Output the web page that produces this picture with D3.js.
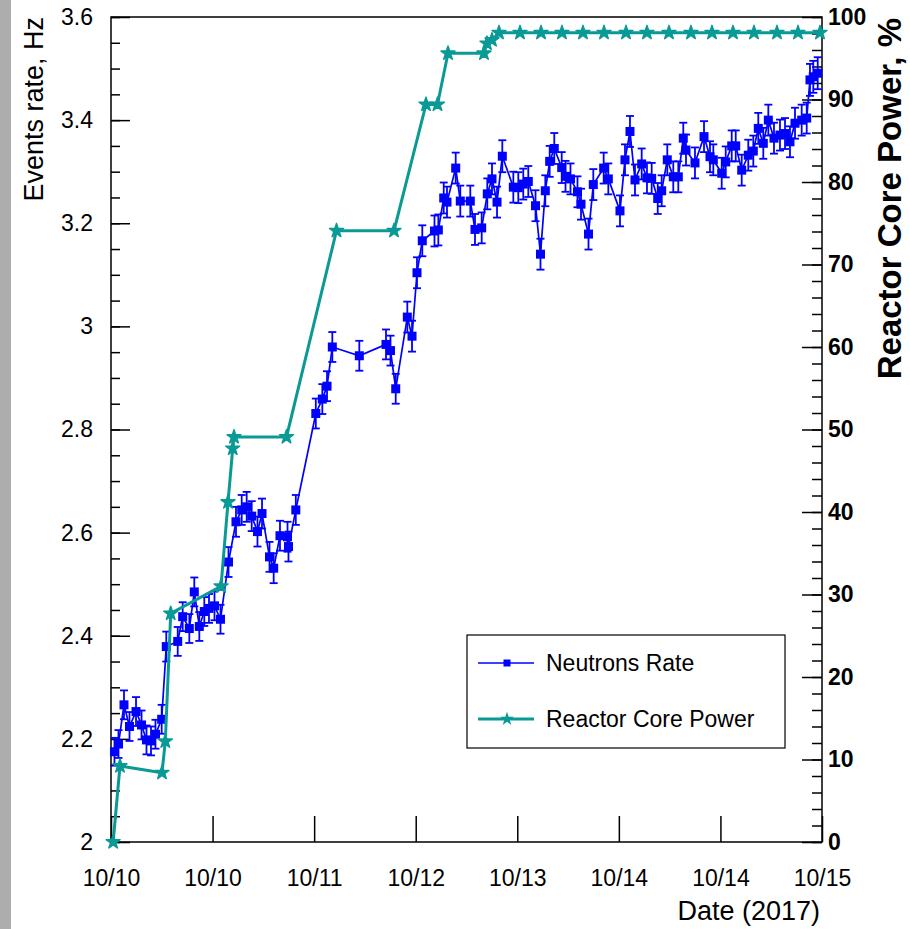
<!DOCTYPE html>
<html>
<head>
<meta charset="utf-8">
<script src="https://cdn.jsdelivr.net/npm/d3@7"></script>
<style>
body { margin: 0; background: #fff; }
svg { display: block; font-family: "Liberation Sans", Arial, sans-serif; }
</style>
</head>
<body>
<svg id="chart" width="910" height="929"></svg>
<script>
// Start of the time axis (first tick), ticks every 19 hours
const axisStart = Date.UTC(2017, 9, 10, 3);
const tickStepHours = 19;
const tickCount = 8;

// Neutrons rate: [hours since axisStart, rate (Hz), error (Hz)]
const neutronRate = [
    [0.65, 2.175, 0.027], [1.40, 2.190, 0.027], [2.43, 2.266, 0.028], [3.46, 2.224, 0.028],
    [4.68, 2.253, 0.028], [5.71, 2.227, 0.028], [6.64, 2.198, 0.028], [7.48, 2.196, 0.028],
    [8.32, 2.209, 0.028], [9.48, 2.238, 0.028], [10.34, 2.379, 0.029], [12.48, 2.389, 0.028],
    [13.41, 2.437, 0.028], [14.65, 2.414, 0.028], [15.58, 2.485, 0.028], [16.52, 2.418, 0.028],
    [17.45, 2.447, 0.028], [18.33, 2.453, 0.028], [19.36, 2.458, 0.028], [20.48, 2.432, 0.028],
    [21.98, 2.543, 0.029], [23.38, 2.621, 0.029], [24.45, 2.644, 0.029], [25.38, 2.650, 0.029],
    [26.32, 2.632, 0.029], [27.40, 2.602, 0.029], [28.25, 2.637, 0.029], [29.65, 2.553, 0.029],
    [30.43, 2.531, 0.029], [31.61, 2.594, 0.029], [33.02, 2.592, 0.029], [33.20, 2.573, 0.029],
    [34.57, 2.644, 0.029], [38.31, 2.831, 0.029], [39.53, 2.859, 0.029], [40.41, 2.884, 0.029],
    [41.40, 2.960, 0.029], [46.45, 2.943, 0.029], [51.44, 2.965, 0.029], [52.28, 2.953, 0.029],
    [53.26, 2.879, 0.029], [55.43, 3.018, 0.030], [56.31, 2.981, 0.030], [57.24, 3.104, 0.030],
    [58.23, 3.166, 0.030], [60.51, 3.185, 0.030], [61.23, 3.187, 0.030], [62.24, 3.249, 0.030],
    [62.85, 3.241, 0.030], [64.48, 3.307, 0.030], [65.34, 3.243, 0.030], [67.21, 3.243, 0.030],
    [68.09, 3.188, 0.030], [69.34, 3.191, 0.030], [70.39, 3.257, 0.030], [71.27, 3.286, 0.030],
    [72.21, 3.241, 0.030], [73.20, 3.330, 0.031], [75.26, 3.270, 0.030], [76.19, 3.269, 0.030],
    [77.12, 3.276, 0.030], [78.06, 3.281, 0.030], [79.41, 3.234, 0.030], [80.34, 3.140, 0.030],
    [81.24, 3.263, 0.030], [82.06, 3.320, 0.030], [82.92, 3.345, 0.030], [84.31, 3.308, 0.030],
    [85.02, 3.291, 0.030], [85.95, 3.286, 0.030], [87.26, 3.261, 0.030], [87.92, 3.237, 0.030],
    [89.32, 3.179, 0.030], [90.22, 3.275, 0.030], [92.16, 3.307, 0.030], [93.03, 3.286, 0.030],
    [95.21, 3.224, 0.030], [96.15, 3.323, 0.030], [97.08, 3.378, 0.030], [98.02, 3.284, 0.030],
    [99.27, 3.315, 0.030], [100.26, 3.288, 0.030], [101.14, 3.287, 0.030], [102.27, 3.248, 0.030],
    [103.01, 3.263, 0.030], [104.06, 3.323, 0.030], [105.18, 3.290, 0.030], [106.12, 3.290, 0.030],
    [107.05, 3.365, 0.030], [107.56, 3.342, 0.030], [109.24, 3.317, 0.030], [110.93, 3.368, 0.030],
    [112.05, 3.329, 0.030], [112.67, 3.323, 0.030], [114.24, 3.297, 0.030], [114.99, 3.319, 0.030],
    [116.11, 3.350, 0.030], [116.86, 3.350, 0.030], [117.98, 3.303, 0.030], [119.21, 3.332, 0.030],
    [120.15, 3.340, 0.030], [121.08, 3.384, 0.030], [122.02, 3.355, 0.030], [122.96, 3.400, 0.030],
    [124.02, 3.365, 0.030], [125.14, 3.371, 0.030], [126.08, 3.374, 0.030], [127.01, 3.358, 0.030],
    [127.95, 3.394, 0.030], [129.20, 3.400, 0.030], [130.14, 3.404, 0.030], [130.75, 3.478, 0.031],
    [131.37, 3.484, 0.031], [132.20, 3.491, 0.031]
];

// Reactor core power: [hours since axisStart, power (%)]
const corePower = [
    [0.40, 0], [1.68, 9.2], [9.54, 8.4], [10.16, 12.2], [11.17, 27.7], [20.58, 31.0],
    [21.89, 41.2], [22.77, 47.7], [23.01, 49.1], [32.83, 49.1], [42.18, 74.1], [52.94, 74.1],
    [58.92, 89.4], [61.07, 89.4], [63.04, 95.6], [69.77, 95.6], [70.33, 96.8], [71.27, 97.2],
    [72.58, 98.1], [76.51, 98.1], [80.44, 98.1], [84.36, 98.1], [88.29, 98.1], [92.22, 98.1],
    [96.34, 98.1], [100.26, 98.1], [104.38, 98.1], [108.49, 98.1], [112.42, 98.1], [116.35, 98.1],
    [120.28, 98.1], [124.58, 98.1], [128.51, 98.1], [132.63, 98.1]
];

const legendLabels = ["Neutrons Rate", "Reactor Core Power"];

const blue = "#0000ff";
const teal = "#0a9a96";
const HOUR = 3600 * 1000;

const margin = { left: 111, top: 17, right: 822, bottom: 842 };
const svg = d3.select("#chart");

// gray strip of the slide background on the left
svg.append("rect").attr("x", 0).attr("y", 0).attr("width", 11).attr("height", 929).attr("fill", "#adadad");

const x = d3.scaleUtc()
    .domain([new Date(axisStart), new Date(axisStart + (tickCount - 1) * tickStepHours * HOUR)])
    .range([margin.left, margin.right]);
const y = d3.scaleLinear().domain([2, 3.6]).range([margin.bottom, margin.top]);
const yR = d3.scaleLinear().domain([0, 100]).range([margin.bottom, margin.top]);

const t = h => new Date(axisStart + h * HOUR);

// frame
svg.append("rect")
    .attr("x", margin.left).attr("y", margin.top)
    .attr("width", margin.right - margin.left).attr("height", margin.bottom - margin.top)
    .attr("fill", "none").attr("stroke", "#000").attr("stroke-width", 1.5);

// bottom axis
const xTicks = d3.range(tickCount).map(i => new Date(axisStart + i * tickStepHours * HOUR));
const gx = svg.append("g")
    .attr("transform", `translate(0,${margin.bottom})`)
    .call(d3.axisBottom(x).tickValues(xTicks).tickFormat(d3.utcFormat("%m/%d")).tickSize(-26).tickPadding(28));

// left axis, major + minor
const gyMinor = svg.append("g")
    .attr("transform", `translate(${margin.left},0)`)
    .call(d3.axisLeft(y).tickValues(d3.range(2, 3.6001, 0.05)).tickSize(-9).tickFormat(""));
const gy = svg.append("g")
    .attr("transform", `translate(${margin.left},0)`)
    .call(d3.axisLeft(y).tickValues([2, 2.2, 2.4, 2.6, 2.8, 3, 3.2, 3.4, 3.6]).tickSize(-19).tickPadding(18).tickFormat(d3.format("")));

// right axis, major + minor
const gyRMinor = svg.append("g")
    .attr("transform", `translate(${margin.right},0)`)
    .call(d3.axisRight(yR).tickValues(d3.range(0, 101, 2)).tickSize(-10).tickFormat(""));
const gyR = svg.append("g")
    .attr("transform", `translate(${margin.right},0)`)
    .call(d3.axisRight(yR).tickValues(d3.range(0, 101, 10)).tickSize(-20).tickPadding(6));

[gx, gy, gyMinor, gyR, gyRMinor].forEach(g => {
    g.select(".domain").remove();
    g.selectAll(".tick line").attr("stroke", "#000").attr("stroke-width", 1.5);
    g.selectAll("text").attr("fill", "#000").style("font-size", "23px")
        .style("font-family", "'Liberation Sans', Arial, sans-serif");
});
gyR.selectAll("text").style("font-weight", "bold");

// axis titles
svg.append("text")
    .attr("transform", "translate(43,17) rotate(-90)")
    .attr("text-anchor", "end")
    .style("font-size", "27px")
    .text("Events rate, Hz");

svg.append("text")
    .attr("x", 820).attr("y", 920)
    .attr("text-anchor", "end")
    .style("font-size", "27px")
    .text("Date (2017)");

svg.append("text")
    .attr("transform", "translate(901,18) rotate(-90)")
    .attr("text-anchor", "end")
    .style("font-size", "33px")
    .style("font-weight", "bold")
    .text("Reactor Core Power, %");

// neutrons rate: line, error bars, square markers
const rateLine = d3.line().x(d => x(t(d[0]))).y(d => y(d[1]));
svg.append("path")
    .datum(neutronRate)
    .attr("d", rateLine)
    .attr("fill", "none")
    .attr("stroke", blue)
    .attr("stroke-width", 1.7);

const errs = svg.append("g").attr("stroke", blue).attr("stroke-width", 1.8)
    .selectAll("g").data(neutronRate).join("g");
errs.append("line")
    .attr("x1", d => x(t(d[0]))).attr("x2", d => x(t(d[0])))
    .attr("y1", d => y(d[1] - d[2])).attr("y2", d => y(d[1] + d[2]));
errs.append("line")
    .attr("x1", d => x(t(d[0])) - 4).attr("x2", d => x(t(d[0])) + 4)
    .attr("y1", d => y(d[1] + d[2])).attr("y2", d => y(d[1] + d[2]));
errs.append("line")
    .attr("x1", d => x(t(d[0])) - 4).attr("x2", d => x(t(d[0])) + 4)
    .attr("y1", d => y(d[1] - d[2])).attr("y2", d => y(d[1] - d[2]));

svg.append("g").selectAll("rect")
    .data(neutronRate)
    .join("rect")
    .attr("x", d => x(t(d[0])) - 4.5)
    .attr("y", d => y(d[1]) - 4.5)
    .attr("width", 9).attr("height", 9)
    .attr("fill", blue);

// reactor power: thick line with star markers
const powerLine = d3.line().x(d => x(t(d[0]))).y(d => yR(d[1]));
svg.append("path")
    .datum(corePower)
    .attr("d", powerLine)
    .attr("fill", "none")
    .attr("stroke", teal)
    .attr("stroke-width", 3);

const star = d3.symbol(d3.symbolStar).size(60);
svg.append("g").selectAll("path")
    .data(corePower)
    .join("path")
    .attr("transform", d => `translate(${x(t(d[0]))},${yR(d[1])})`)
    .attr("d", star)
    .attr("fill", teal)
    .attr("stroke", teal)
    .attr("stroke-width", 1.5)
    .attr("stroke-linejoin", "round");

// legend
const legend = svg.append("g");
legend.append("rect")
    .attr("x", 467).attr("y", 635).attr("width", 318).attr("height", 113)
    .attr("fill", "#fff").attr("stroke", "#000").attr("stroke-width", 1.2);

const rows = [
    { label: legendLabels[0], color: blue, width: 1.5, yPos: 663 },
    { label: legendLabels[1], color: teal, width: 3, yPos: 719 }
];
rows.forEach((r, i) => {
    legend.append("line")
        .attr("x1", 478).attr("x2", 534).attr("y1", r.yPos).attr("y2", r.yPos)
        .attr("stroke", r.color).attr("stroke-width", r.width);
    if (i === 0) {
        legend.append("rect").attr("x", 503.5).attr("y", r.yPos - 3.5).attr("width", 7).attr("height", 7).attr("fill", r.color);
    } else {
        legend.append("path").attr("transform", `translate(507,${r.yPos})`).attr("d", star).attr("fill", r.color);
    }
    legend.append("text")
        .attr("x", 546).attr("y", r.yPos).attr("dy", "0.35em")
        .style("font-size", "23px")
        .text(r.label);
});
</script>
</body>
</html>
